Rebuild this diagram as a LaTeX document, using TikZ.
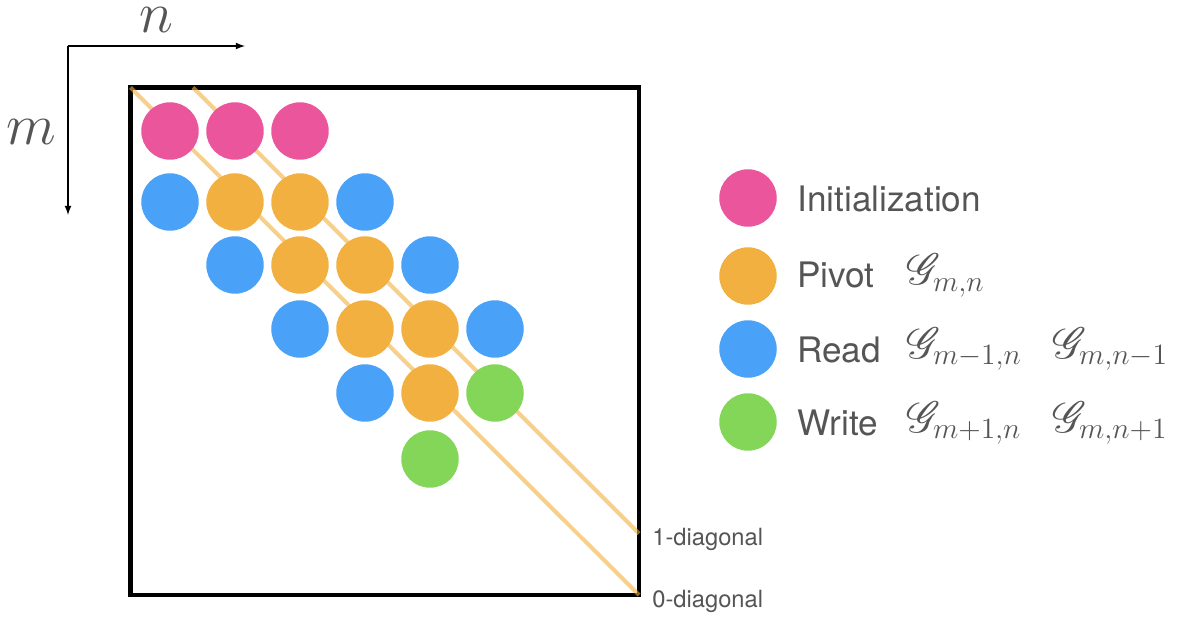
\RequirePackage{fix-cm}
\documentclass[tikz,border=0pt]{standalone}
\usepackage{fontspec}
\usepackage{mathrsfs}
\setsansfont{TeX Gyre Heros}

\definecolor{initpink}{HTML}{EA559C}
\definecolor{pivotorange}{HTML}{F1B040}
\definecolor{readblue}{HTML}{4AA1F8}
\definecolor{writegreen}{HTML}{83D657}
\definecolor{labelgray}{HTML}{555555}

\tikzset{
    cell/.style={circle, inner sep=0pt, minimum size=1.15cm},
    initcell/.style={cell, fill=initpink},
    pivotcell/.style={cell, fill=pivotorange},
    readcell/.style={cell, fill=readblue},
    writecell/.style={cell, fill=writegreen},
    diagline/.style={line width=2.3pt, pivotorange, opacity=0.6},
    legendtext/.style={anchor=base west, inner sep=0pt, text=labelgray,
        font=\sffamily\fontsize{20}{24}\selectfont},
    legendmath/.style={anchor=base west, inner sep=0pt, text=labelgray,
        font=\fontsize{24}{28}\selectfont},
    diaglabel/.style={anchor=base west, inner sep=0pt, text=labelgray,
        font=\sffamily\fontsize{13.5}{16}\selectfont},
    axislabel/.style={anchor=base, inner sep=0pt, text=labelgray,
        font=\fontsize{33}{40}\selectfont}
}

\begin{document}
\begin{tikzpicture}[x=0.02cm, y=-0.02cm]
    \useasboundingbox (0,0) rectangle (1180,618);

    % index directions
    \coordinate (origin) at (68,46);
    \coordinate (nend) at (245,46);
    \coordinate (mend) at (68,215);
    \draw[->, >=latex, line width=0.8pt] (origin) -- (nend);
    \draw[->, >=latex, line width=0.8pt] (origin) -- (mend);
    \node[axislabel] (nlabel) at (156,33) {$n$};
    \node[axislabel] (mlabel) at (31,145) {$m$};

    % matrix frame
    \coordinate (topleft) at (130.5,87.5);
    \coordinate (botright) at (639,595);
    \draw[line width=2.5pt] (topleft) rectangle (botright);

    % diagonals
    \coordinate (diagone) at (193,87.5);
    \coordinate (diagoneend) at (639,533.5);
    \draw[diagline] (topleft) -- (botright);
    \draw[diagline] (diagone) -- (diagoneend);
    \node[diaglabel] (onelabel) at (652,545) {1-diagonal};
    \node[diaglabel] (zerolabel) at (652,607) {0-diagonal};

    % cells
    \node[initcell] (c11) at (170,131) {};
    \node[initcell] (c12) at (235,131) {};
    \node[initcell] (c13) at (300,131) {};

    \node[readcell] (c21) at (170,202) {};
    \node[pivotcell] (c22) at (235,202) {};
    \node[pivotcell] (c23) at (300,202) {};
    \node[readcell] (c24) at (365,202) {};

    \node[readcell] (c32) at (235,265) {};
    \node[pivotcell] (c33) at (300,265) {};
    \node[pivotcell] (c34) at (365,265) {};
    \node[readcell] (c35) at (430,265) {};

    \node[readcell] (c43) at (300,329) {};
    \node[pivotcell] (c44) at (365,329) {};
    \node[pivotcell] (c45) at (430,329) {};
    \node[readcell] (c46) at (495,329) {};

    \node[readcell] (c54) at (365,393) {};
    \node[pivotcell] (c55) at (430,393) {};
    \node[writecell] (c56) at (495,393) {};

    \node[writecell] (c65) at (430,459) {};

    % legend
    \node[initcell] (keyinit) at (748,198) {};
    \node[pivotcell] (keypivot) at (748,276) {};
    \node[readcell] (keyread) at (748,349) {};
    \node[writecell] (keywrite) at (748,422) {};

    \node[legendtext] (txtinit) at (797,212) {Initialization};
    \node[legendtext] (txtpivot) at (797,288) {Pivot};
    \node[legendtext] (txtread) at (797,362) {Read};
    \node[legendtext] (txtwrite) at (797,435) {Write};

    \node[legendmath] (gpivot) at (906,285) {$\mathscr{G}_{m,n}$};
    \node[legendmath] (gread) at (906,358) {$\mathscr{G}_{m-1,n}$};
    \node[legendmath] (greadtwo) at (1052,358) {$\mathscr{G}_{m,n-1}$};
    \node[legendmath] (gwrite) at (906,432) {$\mathscr{G}_{m+1,n}$};
    \node[legendmath] (gwritetwo) at (1052,432) {$\mathscr{G}_{m,n+1}$};
\end{tikzpicture}
\end{document}
